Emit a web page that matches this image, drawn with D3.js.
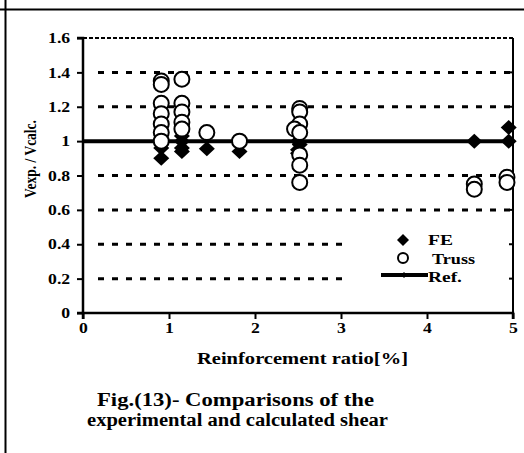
<!DOCTYPE html>
<html>
<head>
<meta charset="utf-8">
<script src="https://cdn.jsdelivr.net/npm/d3@7"></script>
<style>
  html, body { margin: 0; padding: 0; background: #fff; }
  svg { display: block; }
  text { font-family: "Liberation Serif", "Times New Roman", serif; font-weight: bold; fill: #000; }
</style>
</head>
<body>
<svg id="chart" width="524" height="453"></svg>
<script>
// Reinforcement ratio [%] and Vexp/Vcalc for the FE model
const feRatio = [0.91, 0.91, 0.91, 1.15, 1.15, 1.15, 1.15, 1.44, 1.82, 2.50, 2.50, 2.50, 2.52, 4.55, 4.95, 4.95];
const feValue = [0.90, 0.96, 0.99, 1.03, 1.00, 0.96, 0.94, 0.955, 0.94, 1.00, 0.95, 0.93, 0.98, 1.00, 1.08, 1.00];

// Reinforcement ratio [%] and Vexp/Vcalc for the truss model
const trussRatio = [0.91, 0.91, 0.91, 0.91, 0.91, 0.91, 0.91,
                    1.15, 1.15, 1.15, 1.15, 1.15,
                    1.44, 1.82,
                    2.52, 2.52, 2.52, 2.46, 2.52, 2.52, 2.52, 2.52,
                    4.55, 4.55, 4.93, 4.93];
const trussValue = [1.35, 1.33, 1.22, 1.16, 1.10, 1.05, 1.00,
                    1.36, 1.22, 1.17, 1.11, 1.07,
                    1.05, 1.00,
                    1.19, 1.17, 1.10, 1.07, 1.05, 0.92, 0.86, 0.76,
                    0.75, 0.72, 0.79, 0.76];

// Reference line Vexp/Vcalc = 1
const refRatio = [0, 5];
const refValue = [1, 1];

const xTicks = [0, 1, 2, 3, 4, 5];
const yTicks = [0, 0.2, 0.4, 0.6, 0.8, 1, 1.2, 1.4, 1.6];
const legendLabels = ["FE", "Truss", "Ref."];

// text in this figure is set slightly wide
const WIDE = 1.22;

const svg = d3.select("#chart");

// text fitted to a given run length
function fitText(x, y, str, size, len, anchor) {
  return svg.append("text").attr("x", x).attr("y", y)
    .attr("text-anchor", anchor || "start").attr("font-size", size)
    .attr("textLength", len).attr("lengthAdjust", "spacingAndGlyphs").text(str);
}

// outer page frame lines
svg.append("line").attr("x1", 5.5).attr("x2", 5.5).attr("y1", 0).attr("y2", 453)
  .attr("stroke", "#000").attr("stroke-width", 2);
svg.append("line").attr("x1", 0).attr("x2", 524).attr("y1", 9.5).attr("y2", 9.5)
  .attr("stroke", "#000").attr("stroke-width", 2);

const x = d3.scaleLinear().domain([0, 5]).range([83, 513]);
const y = d3.scaleLinear().domain([0, 1.6]).range([313, 38]);

// horizontal dashed gridlines (lower ones stop short of the legend)
const grid = svg.append("g");
yTicks.filter(v => v > 0 && v < 1.6 && v !== 1).forEach(v => {
  const xEnd = (v < 0.5) ? 350 : 513;
  grid.append("line")
    .attr("x1", x(0) + 15).attr("x2", xEnd)
    .attr("y1", y(v)).attr("y2", y(v))
    .attr("stroke", "#000").attr("stroke-width", 3)
    .attr("stroke-dasharray", "6,8");
});
// dashed top border
grid.append("line")
  .attr("x1", x(0)).attr("x2", x(5))
  .attr("y1", y(1.6)).attr("y2", y(1.6))
  .attr("stroke", "#000").attr("stroke-width", 2)
  .attr("stroke-dasharray", "4,2");

// right border with inward ticks
svg.append("line").attr("x1", x(5)).attr("x2", x(5)).attr("y1", y(1.6)).attr("y2", y(0))
  .attr("stroke", "#000").attr("stroke-width", 2);
yTicks.filter(v => v > 0 && v < 1.6).forEach(v => {
  svg.append("line").attr("x1", x(5) - 4).attr("x2", x(5)).attr("y1", y(v)).attr("y2", y(v))
    .attr("stroke", "#000").attr("stroke-width", 2);
});

// axes
const yAxis = svg.append("g").attr("transform", `translate(${x(0)},0)`)
  .call(d3.axisLeft(y).tickValues(yTicks).tickSize(6).tickPadding(4.5)
    .tickFormat(d => d3.format("")(+d.toFixed(1))));
const xAxis = svg.append("g").attr("transform", `translate(0,${y(0)})`)
  .call(d3.axisBottom(x).tickValues(xTicks).tickSize(6).tickPadding(4).tickFormat(d3.format("d")));
[xAxis, yAxis].forEach(a => {
  a.attr("font-family", null).attr("font-size", null);
  a.select(".domain").attr("stroke", "#000").attr("stroke-width", 2.5);
  a.selectAll(".tick line").attr("stroke", "#000").attr("stroke-width", 2);
  a.selectAll(".tick text").attr("font-weight", "bold")
    .style("font-size", "14.5px").attr("fill", "#000")
    .attr("transform", `scale(${WIDE},1)`);
});
yAxis.select(".domain").attr("d", `M-6,${y(1.6)}H0V${y(0)}H-6`);
xAxis.select(".domain").attr("d", `M${x(0)},6V0H${x(5)}V6`);

// reference line
const line = d3.line().x((d, i) => x(refRatio[i])).y((d, i) => y(refValue[i]));
svg.append("path").datum(refValue).attr("d", line)
  .attr("fill", "none").attr("stroke", "#000").attr("stroke-width", 4);

// diamond marker
const diamond = (cx, cy, hw, hh) => `M${cx},${cy - hh}L${cx + hw},${cy}L${cx},${cy + hh}L${cx - hw},${cy}Z`;

// FE markers
svg.append("g").selectAll("path").data(feValue).join("path")
  .attr("d", (d, i) => diamond(x(feRatio[i]), y(d), 8, 7.5))
  .attr("fill", "#000");

// Truss markers
svg.append("g").selectAll("circle").data(trussValue).join("circle")
  .attr("cx", (d, i) => x(trussRatio[i])).attr("cy", d => y(d)).attr("r", 7.5)
  .attr("fill", "#fff").attr("stroke", "#000").attr("stroke-width", 2);

// legend
const lg = svg.append("g");
lg.append("path").attr("d", diamond(403, 240, 6, 6)).attr("fill", "#000");
lg.append("circle").attr("cx", 403).attr("cy", 258).attr("r", 5)
  .attr("fill", "#fff").attr("stroke", "#000").attr("stroke-width", 2);
lg.append("line").attr("x1", 381).attr("x2", 428).attr("y1", 275).attr("y2", 275)
  .attr("stroke", "#000").attr("stroke-width", 4);
lg.append("path").attr("d", diamond(404, 275, 3, 3)).attr("fill", "#000");
const legendLen = [25, 43, 34];
legendLabels.forEach((d, i) => {
  fitText(i === 1 ? 432 : 428, 245 + i * 18.5, d, 14.5, legendLen[i]);
});

// axis titles
svg.append("text").attr("transform", `translate(36,159) scale(${WIDE},1) rotate(-90)`)
  .attr("text-anchor", "middle").attr("font-size", 13.5)
  .attr("textLength", 78).attr("lengthAdjust", "spacingAndGlyphs")
  .text("Vexp. / Vcalc.");
fitText(302.5, 364, "Reinforcement ratio[%]", 16.5, 211, "middle");

// figure caption
fitText(235.5, 406, "Fig.(13)- Comparisons of the", 18.5, 277, "middle");
fitText(237.5, 426, "experimental and calculated shear", 18.5, 301, "middle");
</script>
</body>
</html>
